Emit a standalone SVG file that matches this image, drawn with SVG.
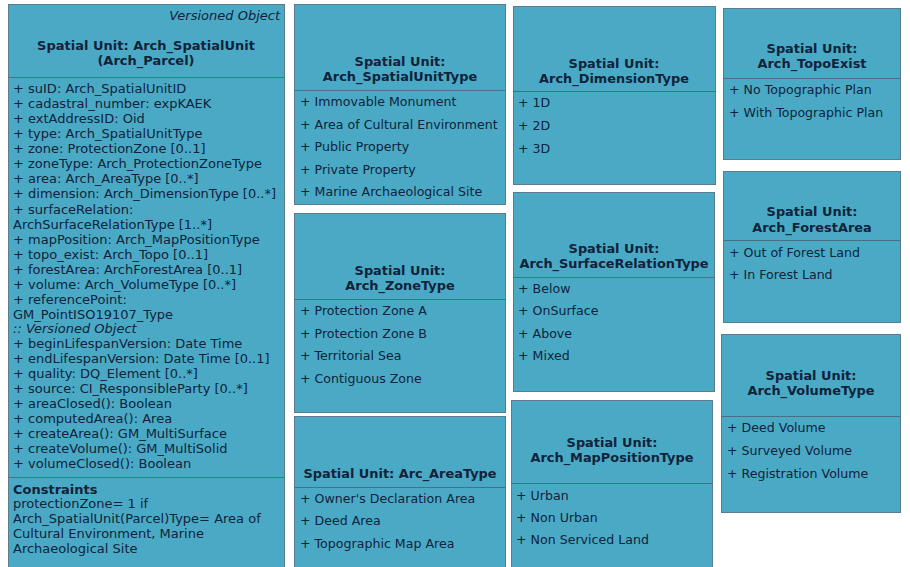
<svg xmlns="http://www.w3.org/2000/svg" width="910" height="567" viewBox="0 0 910 567">
<style>
.box{fill:#4aaac6;stroke:#5b7c8c;stroke-width:1}
.div{stroke:#4a6f80;stroke-width:1}
text{font-family:"DejaVu Sans","Liberation Sans",sans-serif;font-size:12.6px;fill:#10233a}
.m text{font-size:13px}
.t{font-weight:bold;text-anchor:middle;font-size:12.9px}
.i{font-style:italic}
.b{font-weight:bold}
</style>
<rect width="910" height="567" fill="#ffffff"/>

<g id="arch_spatialunit" class="m">
<rect class="box" x="8.5" y="4.5" width="276" height="575"/>
<text class="i" x="280" y="20" text-anchor="end">Versioned Object</text>
<text class="t" x="146" y="50">Spatial Unit: Arch_SpatialUnit</text>
<text class="t" x="146" y="65">(Arch_Parcel)</text>
<line class="div" x1="8.5" y1="77.5" x2="284.5" y2="77.5"/>
<text x="13" y="93">+ suID: Arch_SpatialUnitID</text>
<text x="13" y="108">+ cadastral_number: expKAEK</text>
<text x="13" y="123">+ extAddressID: Oid</text>
<text x="13" y="138">+ type: Arch_SpatialUnitType</text>
<text x="13" y="153">+ zone: ProtectionZone [0..1]</text>
<text x="13" y="168">+ zoneType: Arch_ProtectionZoneType</text>
<text x="13" y="183">+ area: Arch_AreaType [0..*]</text>
<text x="13" y="198">+ dimension: Arch_DimensionType [0..*]</text>
<text x="13" y="214">+ surfaceRelation:</text>
<text x="13" y="229">ArchSurfaceRelationType [1..*]</text>
<text x="13" y="244">+ mapPosition: Arch_MapPositionType</text>
<text x="13" y="259">+ topo_exist: Arch_Topo [0..1]</text>
<text x="13" y="274">+ forestArea: ArchForestArea [0..1]</text>
<text x="13" y="289">+ volume: Arch_VolumeType [0..*]</text>
<text x="13" y="304">+ referencePoint:</text>
<text x="13" y="319">GM_PointISO19107_Type</text>
<text class="i" x="13" y="333">:: Versioned Object</text>
<text x="13" y="348">+ beginLifespanVersion: Date Time</text>
<text x="13" y="363">+ endLifespanVersion: Date Time [0..1]</text>
<text x="13" y="378">+ quality: DQ_Element [0..*]</text>
<text x="13" y="393">+ source: CI_ResponsibleParty [0..*]</text>
<text x="13" y="408">+ areaClosed(): Boolean</text>
<text x="13" y="423">+ computedArea(): Area</text>
<text x="13" y="438">+ createArea(): GM_MultiSurface</text>
<text x="13" y="453">+ createVolume(): GM_MultiSolid</text>
<text x="13" y="468">+ volumeClosed(): Boolean</text>
<line class="div" x1="8.5" y1="477.5" x2="284.5" y2="477.5"/>
<text class="b" x="13" y="494">Constraints</text>
<text x="13" y="508">protectionZone= 1 if</text>
<text x="13" y="523">Arch_SpatialUnit(Parcel)Type= Area of</text>
<text x="13" y="538">Cultural Environment, Marine</text>
<text x="13" y="553">Archaeological Site</text>
</g>

<g id="arch_spatialunittype">
<rect class="box" x="294.5" y="4.5" width="211" height="200"/>
<text class="t" x="400" y="66">Spatial Unit:</text>
<text class="t" x="400" y="81">Arch_SpatialUnitType</text>
<line class="div" x1="294.5" y1="90.5" x2="505.5" y2="90.5"/>
<text x="300" y="106">+ Immovable Monument</text>
<text x="300" y="129">+ Area of Cultural Environment</text>
<text x="300" y="151">+ Public Property</text>
<text x="300" y="174">+ Private Property</text>
<text x="300" y="196">+ Marine Archaeological Site</text>
</g>

<g id="arch_zonetype">
<rect class="box" x="294.5" y="213.5" width="211" height="199"/>
<text class="t" x="400" y="275">Spatial Unit:</text>
<text class="t" x="400" y="290">Arch_ZoneType</text>
<line class="div" x1="294.5" y1="299.5" x2="505.5" y2="299.5"/>
<text x="300" y="315">+ Protection Zone A</text>
<text x="300" y="338">+ Protection Zone B</text>
<text x="300" y="360">+ Territorial Sea</text>
<text x="300" y="383">+ Contiguous Zone</text>
</g>

<g id="arc_areatype">
<rect class="box" x="294.5" y="416.5" width="211" height="160"/>
<text class="t" x="400" y="478">Spatial Unit: Arc_AreaType</text>
<line class="div" x1="294.5" y1="487.5" x2="505.5" y2="487.5"/>
<text x="300" y="503">+ Owner's Declaration Area</text>
<text x="300" y="525">+ Deed Area</text>
<text x="300" y="548">+ Topographic Map Area</text>
</g>

<g id="arch_dimensiontype">
<rect class="box" x="513.5" y="6.5" width="202" height="178"/>
<text class="t" x="614" y="68">Spatial Unit:</text>
<text class="t" x="614" y="83">Arch_DimensionType</text>
<line class="div" x1="513.5" y1="91.5" x2="715.5" y2="91.5"/>
<text x="518" y="107">+ 1D</text>
<text x="518" y="130">+ 2D</text>
<text x="518" y="153">+ 3D</text>
</g>

<g id="arch_surfacerelationtype">
<rect class="box" x="513.5" y="192.5" width="201" height="199"/>
<text class="t" x="614" y="253">Spatial Unit:</text>
<text class="t" x="614" y="268">Arch_SurfaceRelationType</text>
<line class="div" x1="513.5" y1="277.5" x2="714.5" y2="277.5"/>
<text x="518" y="293">+ Below</text>
<text x="518" y="315">+ OnSurface</text>
<text x="518" y="338">+ Above</text>
<text x="518" y="360">+ Mixed</text>
</g>

<g id="arch_mappositiontype">
<rect class="box" x="511.5" y="400.5" width="201" height="176"/>
<text class="t" x="612" y="447">Spatial Unit:</text>
<text class="t" x="612" y="462">Arch_MapPositionType</text>
<line class="div" x1="511.5" y1="483.5" x2="712.5" y2="483.5"/>
<text x="516" y="500">+ Urban</text>
<text x="516" y="522">+ Non Urban</text>
<text x="516" y="544">+ Non Serviced Land</text>
</g>

<g id="arch_topoexist">
<rect class="box" x="723.5" y="8.5" width="177" height="151"/>
<text class="t" x="812" y="53">Spatial Unit:</text>
<text class="t" x="812" y="68">Arch_TopoExist</text>
<line class="div" x1="723.5" y1="78.5" x2="900.5" y2="78.5"/>
<text x="729" y="94">+ No Topographic Plan</text>
<text x="729" y="117">+ With Topographic Plan</text>
</g>

<g id="arch_forestarea">
<rect class="box" x="723.5" y="171.5" width="177" height="151"/>
<text class="t" x="812" y="216">Spatial Unit:</text>
<text class="t" x="812" y="232">Arch_ForestArea</text>
<line class="div" x1="723.5" y1="240.5" x2="900.5" y2="240.5"/>
<text x="729" y="257">+ Out of Forest Land</text>
<text x="729" y="279">+ In Forest Land</text>
</g>

<g id="arch_volumetype">
<rect class="box" x="721.5" y="334.5" width="179" height="178"/>
<text class="t" x="811" y="380">Spatial Unit:</text>
<text class="t" x="811" y="395">Arch_VolumeType</text>
<line class="div" x1="721.5" y1="416.5" x2="900.5" y2="416.5"/>
<text x="727" y="432">+ Deed Volume</text>
<text x="727" y="455">+ Surveyed Volume</text>
<text x="727" y="478">+ Registration Volume</text>
</g>
</svg>
